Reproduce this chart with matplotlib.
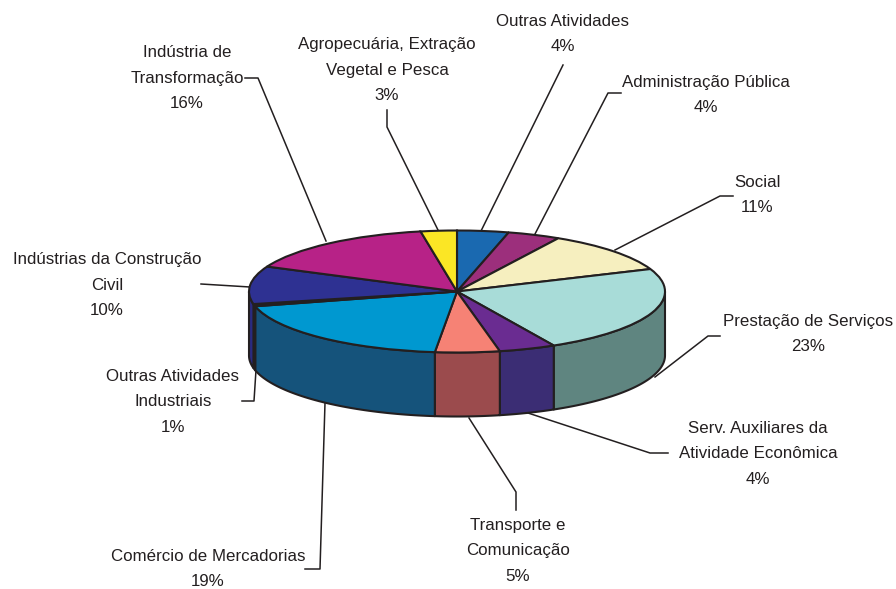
import numpy as np
import matplotlib
matplotlib.use('Agg')
import matplotlib.pyplot as plt

plt.rcParams['font.family'] = ['Liberation Sans', 'DejaVu Sans']

# slices clockwise from 12 o'clock, shares
categories = ['Outras Atividades', 'Administração Pública', 'Social', 'Prestação de Serviços',
              'Serv. Auxiliares da\nAtividade Econômica', 'Transporte e\nComunicação',
              'Comércio de Mercadorias', 'Outras Atividades\nIndustriais',
              'Indústrias da Construção\nCivil', 'Indústria de\nTransformação',
              'Agropecuária, Extração\nVegetal e Pesca']
shares = [4.0, 4.1, 10.9, 23.3, 4.4, 5.0, 19.4, 0.6, 10.0, 15.5, 2.8]
pct_labels = ['4%', '4%', '11%', '23%', '4%', '5%', '19%', '1%', '10%', '16%', '3%']
top_colors = ['#1a69b0', '#9c2f7c', '#f6efbf', '#a8dcd8', '#6a2c91', '#f68275',
              '#0098d0', '#231f20', '#2e3192', '#b72287', '#fbe625']
side_colors = ['#14528a', '#7a2460', '#c4bf98', '#5f8580', '#3b2d74', '#9b4b4d',
               '#15537b', '#231f20', '#2a2a80', '#8f1a6b', '#c8b81d']

# label centres and leader lines, in pixels of the picture
label_pos = [(563, 34), (706, 95), (757, 195), (808, 334), (758, 454), (518, 551),
             (208, 569), (173, 402), (107, 285), (187, 78), (387, 70)]
leaders = [[(563, 65), (481, 231)],
           [(621, 93), (608, 93), (535, 234)],
           [(733, 196), (720, 196), (615, 250)],
           [(720, 336), (708, 336), (655, 377)],
           [(668, 453), (650, 453), (528, 413)],
           [(516, 510), (516, 492), (469, 418)],
           [(305, 569), (320, 569), (325, 403)],
           [(242, 401), (254, 401), (256, 370)],
           [(201, 284), (250, 287)],
           [(245, 78), (258, 78), (326, 241)],
           [(387, 110), (387, 127), (438, 230)]]

W, H = 896, 589
CX, CY, RX, RY, DEPTH = 457, 291.5, 208, 61, 64
EDGE = '#231f20'

fig = plt.figure(figsize=(W / 100, H / 100), dpi=100)

# background axes in pixel coordinates for the text and leaders
bg = fig.add_axes([0, 0, 1, 1], zorder=0)
bg.set_xlim(0, W)
bg.set_ylim(H, 0)
bg.axis('off')

for name, pct, pos, line in zip(categories, pct_labels, label_pos, leaders):
    bg.text(pos[0], pos[1], name + '\n' + pct, ha='center', va='center',
            fontsize=12.2, linespacing=1.9, color='#231f20')
    xs, ys = zip(*line)
    bg.plot(xs, ys, color=EDGE, lw=1.1)

# pie axes: unit circle squashed into the ellipse
ax = fig.add_axes([(CX - RX) / W, (H - CY - RY) / H, 2 * RX / W, 2 * RY / H], zorder=1)
ax.patch.set_alpha(0)

# side wall first, only the part facing the viewer
d = DEPTH / RY
ends = np.cumsum(shares) / np.sum(shares) * 360
starts = np.concatenate(([0], ends[:-1]))
for a0, a1, col in zip(starts, ends, side_colors):
    lo, hi = max(a0, 90), min(a1, 270)
    if hi <= lo:
        continue
    t = np.radians(np.linspace(lo, hi, 60))
    x = np.sin(t)
    y = np.cos(t)
    ax.fill(np.r_[x, x[::-1]], np.r_[y, y[::-1] - d], facecolor=col, edgecolor=EDGE,
            lw=1.5, joinstyle='round', clip_on=False)

wedges, _ = ax.pie(shares, colors=top_colors, startangle=90, counterclock=False,
                   wedgeprops=dict(edgecolor=EDGE, linewidth=1.5))
for w in wedges:
    w.set_clip_on(False)
ax.set_aspect('auto')
ax.set_xlim(-1, 1)
ax.set_ylim(-1, 1)
ax.axis('off')

fig.savefig('out.png', dpi=100)
